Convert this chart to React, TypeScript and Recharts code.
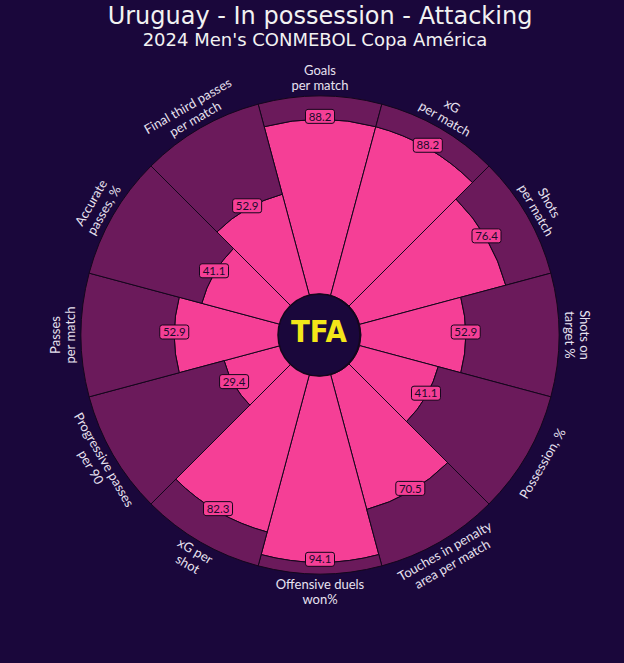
import React from 'react';
import { RadialBarChart, RadialBar, PolarAngleAxis, PolarRadiusAxis, LabelList } from 'recharts';

const categories = [
  'Goals\nper match',
  'xG\nper match',
  'Shots\nper match',
  'Shots on\ntarget %',
  'Possession, %',
  'Touches in penalty\narea per match',
  'Offensive duels\nwon%',
  'xG per\nshot',
  'Progressive passes\nper 90',
  'Passes\nper match',
  'Accurate\npasses, %',
  'Final third passes\nper match',
];
const percentiles = [88.2, 88.2, 76.4, 52.9, 41.1, 70.5, 94.1, 82.3, 29.4, 52.9, 41.1, 52.9];
const maxPercentile = 100;
const titleText = 'Uruguay - In possession - Attacking';
const subtitleText = "2024 Men's CONMEBOL Copa América";
const logoText = 'TFA';

const data = categories.map((name, i) => ({
  name,
  value: percentiles[i],
  rest: Math.round((maxPercentile - percentiles[i]) * 10) / 10,
}));

const PAGE_BG = '#1a073b';
const SLICE_BG = '#6b1a5b';
const PINK = '#f53f96';
const LINE = '#14061c';
const LABEL = '#e8e2f0';
const W = 624;
const H = 663;
const CX = 320;
const CY = 335;
const INNER = 41;
const OUTER = 239;
const FONT = "Lato, 'Open Sans', sans-serif";

const renderCategoryLabel = (props: any) => {
  const { viewBox, value, index } = props;
  if (!viewBox) return null;
  const label = typeof value === 'string' ? value : categories[index];
  const { cx, cy, outerRadius, startAngle, endAngle } = viewBox;
  const midDeg = (startAngle + endAngle) / 2;
  const rad = (midDeg * Math.PI) / 180;
  const r = outerRadius + 18;
  const x = cx + r * Math.cos(rad);
  const y = cy - r * Math.sin(rad);
  let theta = (((90 - midDeg) % 360) + 360) % 360;
  theta = Math.round(theta * 1000) / 1000;
  const rot = theta <= 90 ? theta : theta < 270 ? theta - 180 : theta - 360;
  const lines = String(label).split('\n');
  const lh = 15;
  const fs = 13;
  return (
    <g transform={`translate(${x},${y}) rotate(${rot})`}>
      <text textAnchor="middle" fill={LABEL} fontSize={fs} fontFamily={FONT}>
        {lines.map((l, i) => (
          <tspan key={i} x={0} y={(i - (lines.length - 1) / 2) * lh + fs * 0.35}>
            {l}
          </tspan>
        ))}
      </text>
    </g>
  );
};

const renderValueLabel = (props: any) => {
  const { viewBox, value } = props;
  if (!viewBox) return null;
  const { cx, cy, outerRadius, startAngle, endAngle } = viewBox;
  const mid = (((startAngle + endAngle) / 2) * Math.PI) / 180;
  const x = cx + outerRadius * Math.cos(mid);
  const y = cy - outerRadius * Math.sin(mid) - 3;
  const w = 29;
  const h = 14;
  return (
    <g>
      <rect x={x - w / 2} y={y - h / 2} width={w} height={h} rx={2.5} fill={PINK} stroke={LINE} strokeWidth={1} />
      <text x={x} y={y} dy="0.36em" textAnchor="middle" fontSize={11.5} fill="#1c0a2c" fontFamily={FONT}>
        {value}
      </text>
    </g>
  );
};

export default function App() {
  return (
    <div style={{ position: 'absolute', left: 0, top: 0, width: W, height: H, background: PAGE_BG, overflow: 'hidden' }}>
      <div style={{ position: 'absolute', left: 0, top: 0 }}>
        <RadialBarChart
          width={W}
          height={H}
          cx={CX}
          cy={CY}
          innerRadius={INNER}
          outerRadius={OUTER}
          startAngle={75}
          endAngle={-285}
          data={data}
          layout="centric"
          barCategoryGap={0}
          barGap={0}
          margin={{ top: 0, right: 0, bottom: 0, left: 0 }}
        >
          <PolarAngleAxis dataKey="name" type="category" tick={false} tickLine={false} axisLine={false} />
          <PolarRadiusAxis type="number" domain={[0, maxPercentile]} tick={false} axisLine={false} />
          <RadialBar
            dataKey="value"
            stackId="pizza"
            fill={PINK}
            stroke={LINE}
            strokeWidth={1}
            isAnimationActive={false}
          />
          <RadialBar
            dataKey="rest"
            stackId="pizza"
            fill={SLICE_BG}
            stroke={LINE}
            strokeWidth={1}
            isAnimationActive={false}
          >
            <LabelList dataKey="name" content={renderCategoryLabel} />
          </RadialBar>
        </RadialBarChart>
      </div>
      <div style={{ position: 'absolute', left: 0, top: 0 }}>
        <RadialBarChart
          width={W}
          height={H}
          cx={CX}
          cy={CY}
          innerRadius={INNER}
          outerRadius={OUTER}
          startAngle={75}
          endAngle={-285}
          data={data}
          layout="centric"
          barCategoryGap={0}
          barGap={0}
          margin={{ top: 0, right: 0, bottom: 0, left: 0 }}
        >
          <PolarAngleAxis dataKey="name" type="category" tick={false} tickLine={false} axisLine={false} />
          <PolarRadiusAxis type="number" domain={[0, maxPercentile]} tick={false} axisLine={false} />
          <RadialBar dataKey="value" fill="none" stroke="none" isAnimationActive={false}>
            <LabelList dataKey="value" content={renderValueLabel} />
          </RadialBar>
        </RadialBarChart>
      </div>
      <svg width={W} height={H} style={{ position: 'absolute', left: 0, top: 0, pointerEvents: 'none' }}>
        <text x={320} y={24} textAnchor="middle" fontSize={24} fill="#f2f2f2" fontFamily="'DejaVu Sans', sans-serif">
          {titleText}
        </text>
        <text x={315} y={46} textAnchor="middle" fontSize={18} fill="#f2f2f2" fontFamily="'DejaVu Sans', sans-serif">
          {subtitleText}
        </text>
        <circle cx={CX - 1} cy={CY} r={INNER} fill={PAGE_BG} stroke={LINE} strokeWidth={1.5} />
        <text
          x={CX - 1}
          y={CY + 7}
          textAnchor="middle"
          fontSize={30}
          fontWeight={900}
          fill="#f3e619"
          fontFamily="'DejaVu Sans', sans-serif"
          textLength={56}
          lengthAdjust="spacingAndGlyphs"
        >
          {logoText}
        </text>
      </svg>
    </div>
  );
}
